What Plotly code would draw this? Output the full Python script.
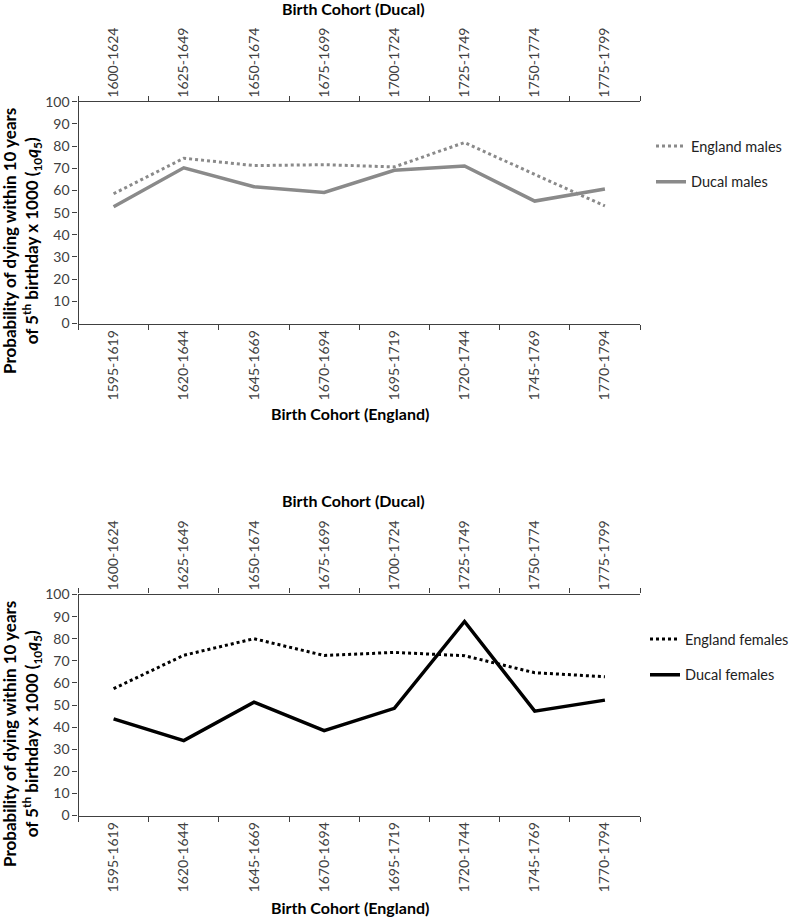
import plotly.graph_objects as go

england_cohorts = ["1595-1619", "1620-1644", "1645-1669", "1670-1694",
                   "1695-1719", "1720-1744", "1745-1769", "1770-1794"]
ducal_cohorts = ["1600-1624", "1625-1649", "1650-1674", "1675-1699",
                 "1700-1724", "1725-1749", "1750-1774", "1775-1799"]

england_males = [58.5, 74.5, 71.2, 71.6, 70.6, 81.6, 67.2, 53.0]
ducal_males = [52.6, 70.2, 61.7, 59.1, 69.1, 71.0, 55.2, 60.6]
england_females = [57.4, 72.5, 80.0, 72.4, 73.8, 72.3, 64.6, 62.8]
ducal_females = [43.7, 33.9, 51.3, 38.4, 48.5, 87.8, 47.2, 52.2]

W, H = 790, 917
FONT = "Lato, 'Noto Sans', sans-serif"
GREY = "#8a8a8a"

def px_x(p):
    return p / W

def px_y(p):
    return 1 - p / H

fig = go.Figure()

fig.add_trace(go.Scatter(x=england_cohorts, y=england_males, name="England males",
                         mode="lines", line=dict(color=GREY, width=3, dash="dot"),
                         xaxis="x", yaxis="y", legend="legend", legendgroup="a"))
fig.add_trace(go.Scatter(x=ducal_cohorts, y=ducal_males, name="Ducal males",
                         mode="lines", line=dict(color=GREY, width=3.5),
                         xaxis="x2", yaxis="y", legend="legend", legendgroup="b"))
fig.add_trace(go.Scatter(x=england_cohorts, y=england_females, name="England females",
                         mode="lines", line=dict(color="black", width=3, dash="dot"),
                         xaxis="x3", yaxis="y2", legend="legend2", legendgroup="c"))
fig.add_trace(go.Scatter(x=ducal_cohorts, y=ducal_females, name="Ducal females",
                         mode="lines", line=dict(color="black", width=3.5),
                         xaxis="x4", yaxis="y2", legend="legend2", legendgroup="d"))

xdom = [px_x(78.5), px_x(640)]
top_dom = [px_y(323.5), px_y(101.7)]
bot_dom = [px_y(815.5), px_y(594.5)]

tickfont = dict(family=FONT, size=14, color="#404040")

def xax(cats, side, anchor, overlaying=None):
    d = dict(type="category", categoryorder="array", categoryarray=cats,
             range=[-0.5, 7.5], domain=xdom, side=side, anchor=anchor,
             tickson="boundaries", ticks="outside", ticklen=5, tickcolor="#404040",
             showline=True, linecolor="#404040", linewidth=1.3,
             showgrid=False, zeroline=False, tickangle=-90, tickfont=tickfont,
             automargin=False, fixedrange=True)
    if overlaying:
        d["overlaying"] = overlaying
    return d

def yax(dom, anchor):
    return dict(domain=dom, range=[0, 100], dtick=10, anchor=anchor,
                ticks="outside", ticklen=5, tickcolor="#404040",
                showline=True, linecolor="#404040", linewidth=1.3,
                showgrid=False, zeroline=False, tickfont=tickfont,
                automargin=False, fixedrange=True)

legend_common = dict(font=dict(family=FONT, size=14.5, color="#222"),
                     bgcolor="rgba(0,0,0,0)", traceorder="grouped",
                     tracegroupgap=14, xanchor="left", yanchor="top")

fig.update_layout(
    width=W, height=H,
    margin=dict(l=0, r=0, t=0, b=0, autoexpand=False),
    paper_bgcolor="white", plot_bgcolor="white",
    xaxis=xax(england_cohorts, "bottom", "y"),
    xaxis2=xax(ducal_cohorts, "top", "y", overlaying="x"),
    xaxis3=xax(england_cohorts, "bottom", "y2"),
    xaxis4=xax(ducal_cohorts, "top", "y2", overlaying="x3"),
    yaxis=yax(top_dom, "x"),
    yaxis2=yax(bot_dom, "x3"),
    legend=dict(x=px_x(651), y=px_y(130), **legend_common),
    legend2=dict(x=px_x(645), y=px_y(623), **legend_common),
    showlegend=True,
)

title_font = dict(family=FONT, size=16, color="black")
ann = []
for yy in (8.5, 500.7):
    ann.append(dict(text="<b>Birth Cohort (Ducal)</b>", x=px_x(353), y=px_y(yy),
                    xref="paper", yref="paper", xanchor="center", yanchor="middle",
                    showarrow=False, font=title_font))
for yy in (414, 907):
    ann.append(dict(text="<b>Birth Cohort (England)</b>", x=px_x(350), y=px_y(yy),
                    xref="paper", yref="paper", xanchor="center", yanchor="middle",
                    showarrow=False, font=title_font))
ytitle = ("<b>Probability of dying within 10 years<br>of 5<sup>th</sup> birthday x 1000 "
          "(<sub>10</sub><i>q</i><sub>5</sub>)</b>")
for yy in (241, 734):
    ann.append(dict(text=ytitle, x=px_x(22), y=px_y(yy), xref="paper", yref="paper",
                    xanchor="center", yanchor="middle",
                    showarrow=False, textangle=-90,
                    font=dict(family=FONT, size=17, color="black")))
fig.update_layout(annotations=ann)

fig.write_html("out.html", config={"displayModeBar": False},
               post_script="document.body.style.margin='0';document.body.style.overflow='hidden';")
